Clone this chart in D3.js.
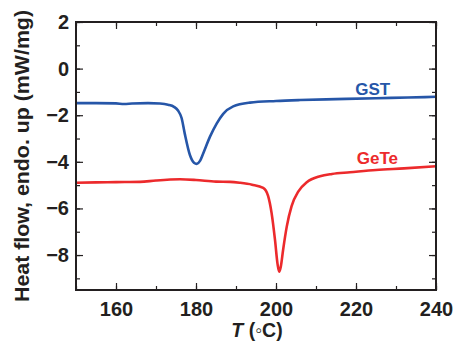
<!DOCTYPE html>
<html lang="en">
<head>
<meta charset="UTF-8">
<title>DSC GST / GeTe</title>
<script src="https://d3js.org/d3.v7.min.js"></script>
<style>
  body { margin: 0; background: #fff; }
  svg { font-family: "Liberation Sans", Arial, sans-serif; }
</style>
</head>
<body>
<script>
// data
const gstT = [150, 155, 160, 162, 164, 168, 171, 173, 174.5, 175.5, 176.4, 177.2, 178.5, 179.5, 180.2, 181, 181.8, 183.5, 185.2, 186.8, 189.3, 193.5, 200, 206, 215, 225, 233, 240];
const gstHF = [-1.48, -1.48, -1.49, -1.52, -1.50, -1.48, -1.50, -1.55, -1.64, -1.80, -2.12, -2.80, -3.72, -4.04, -4.09, -3.96, -3.64, -2.92, -2.35, -1.94, -1.62, -1.46, -1.39, -1.35, -1.31, -1.27, -1.24, -1.21];
const geteT = [150, 155, 160, 166, 170, 176, 180, 185, 188.5, 191, 194, 196.8, 198, 198.9, 199.75, 200.4, 200.8, 201.2, 201.8, 202.7, 203.9, 205.6, 207.7, 211, 214, 218.5, 225, 232, 240];
const geteHF = [-4.90, -4.88, -4.87, -4.86, -4.80, -4.75, -4.78, -4.85, -4.86, -4.90, -4.98, -5.12, -5.45, -6.2, -7.35, -8.4, -8.72, -8.5, -7.75, -6.77, -5.90, -5.27, -4.88, -4.62, -4.52, -4.45, -4.35, -4.28, -4.19];
const xTicks = [160, 180, 200, 220, 240];
const yTicks = [2, 0, -2, -4, -6, -8];
const seriesNames = ["GST", "GeTe"];

const W = 453, H = 341;
const margin = {top: 22, right: 17, bottom: 51, left: 76};
const width = W - margin.left - margin.right,
      height = H - margin.top - margin.bottom;
const axisCol = "#231f20";
const blue = "#2656a8", red = "#ec2a2c";

const svg = d3.select("body").append("svg")
    .attr("width", W).attr("height", H);
const g = svg.append("g").attr("transform", `translate(${margin.left},${margin.top})`);

const x = d3.scaleLinear().domain([150, 240]).range([0, width]);
const y = d3.scaleLinear().domain([-9.5, 2]).range([height, 0]);

const minorX = d3.range(150, 241, 10);
const minorY = d3.range(-9, 2.01, 1);

function styleAxis(sel) {
  sel.select(".domain").remove();
  sel.selectAll("line").attr("stroke", axisCol).attr("stroke-width", 1.2);
  sel.selectAll("text").attr("fill", axisCol).attr("font-size", 20).attr("font-weight", "bold");
}

// minor ticks (inward) on all sides
g.append("g").attr("transform", `translate(0,${height})`)
  .call(d3.axisBottom(x).tickValues(minorX).tickSize(-4).tickFormat("")).call(styleAxis);
g.append("g")
  .call(d3.axisTop(x).tickValues(minorX).tickSize(-4).tickFormat("")).call(styleAxis);
g.append("g")
  .call(d3.axisLeft(y).tickValues(minorY).tickSize(-4).tickFormat("")).call(styleAxis);
g.append("g").attr("transform", `translate(${width},0)`)
  .call(d3.axisRight(y).tickValues(minorY).tickSize(-4).tickFormat("")).call(styleAxis);

// major ticks with labels
g.append("g").attr("transform", `translate(0,${height})`)
  .call(d3.axisBottom(x).tickValues(xTicks).tickSize(-7).tickPadding(12).tickFormat(d3.format("d")))
  .call(styleAxis);
g.append("g")
  .call(d3.axisLeft(y).tickValues(yTicks).tickSize(-7).tickPadding(7).tickFormat(d3.format("d")))
  .call(styleAxis);
g.append("g")
  .call(d3.axisTop(x).tickValues(xTicks).tickSize(-7).tickFormat("")).call(styleAxis);
g.append("g").attr("transform", `translate(${width},0)`)
  .call(d3.axisRight(y).tickValues(yTicks).tickSize(-7).tickFormat("")).call(styleAxis);

// curves
const line = d3.line().x(d => x(d[0])).y(d => y(d[1])).curve(d3.curveMonotoneX);
const gst = gstT.map((t, i) => [t, gstHF[i]]);
const gete = geteT.map((t, i) => [t, geteHF[i]]);
g.append("path").datum(gst).attr("d", line)
  .attr("fill", "none").attr("stroke", blue).attr("stroke-width", 2.6);
g.append("path").datum(gete).attr("d", line)
  .attr("fill", "none").attr("stroke", red).attr("stroke-width", 2.6);

// frame
g.append("rect").attr("width", width).attr("height", height)
  .attr("fill", "none").attr("stroke", axisCol).attr("stroke-width", 2);

// series labels
g.append("text").attr("x", x(219.8)).attr("y", y(-1.12))
  .attr("fill", blue).attr("font-size", 17).attr("font-weight", "bold").text(seriesNames[0]);
g.append("text").attr("x", x(220.2)).attr("y", y(-4.1))
  .attr("fill", red).attr("font-size", 17).attr("font-weight", "bold").text(seriesNames[1]);

// axis titles
const xt = svg.append("text").attr("x", margin.left + width / 2 + 1).attr("y", 336.5)
  .attr("text-anchor", "middle").attr("fill", axisCol)
  .attr("font-size", 19.5).attr("font-weight", "bold");
xt.append("tspan").attr("font-style", "italic").text("T");
xt.append("tspan").text(" (\u25E6C)");

svg.append("text")
  .attr("transform", `translate(28.5,${156}) rotate(-90)`)
  .attr("text-anchor", "middle").attr("fill", axisCol)
  .attr("font-size", 21).attr("font-weight", "bold")
  .attr("textLength", 292).attr("lengthAdjust", "spacingAndGlyphs")
  .text("Heat flow, endo. up (mW/mg)");
</script>
</body>
</html>
